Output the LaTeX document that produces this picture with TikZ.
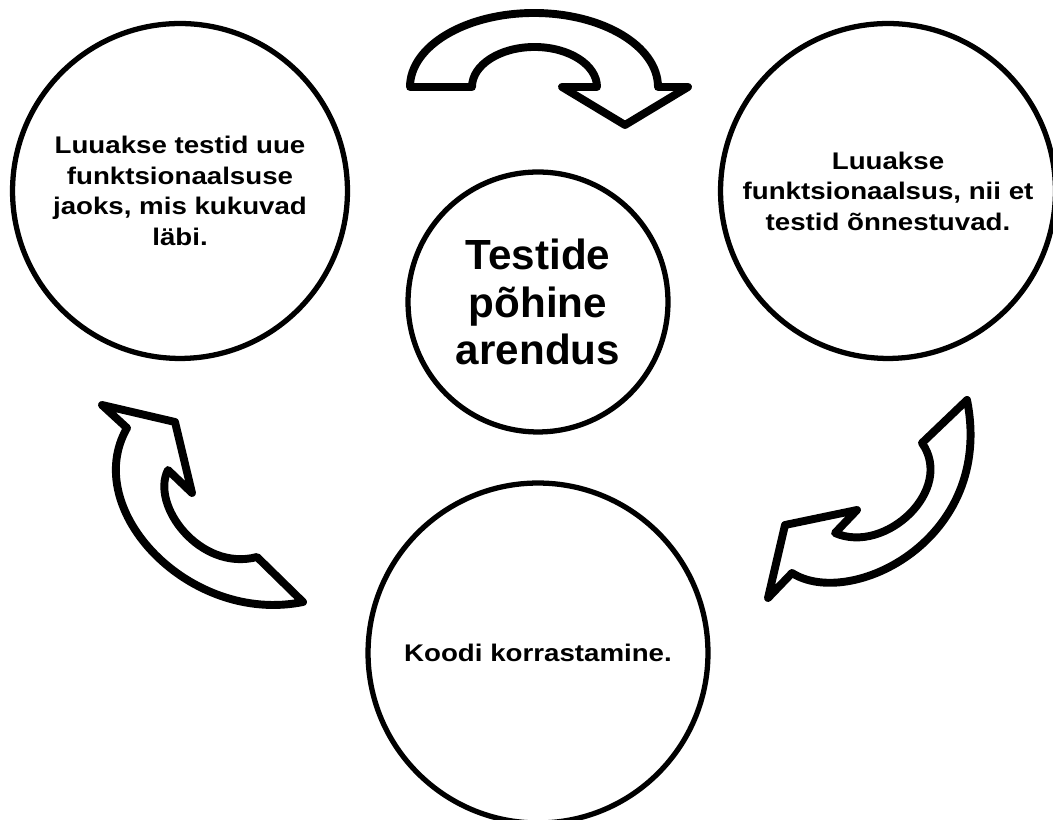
\documentclass[tikz,border=0pt]{standalone}
\usepackage{fontspec}
\setmainfont{Liberation Sans}
\newfontfamily\widefont[FakeStretch=1.15]{Liberation Sans}

\begin{document}
\begin{tikzpicture}[x=0.02cm,
                    y=0.02cm,
                    %line join=miter,
                    line join=round,
                    main node/.style={circle,draw,line width=3pt,minimum size=6.7cm,
                                      align=center,font=\widefont\bfseries\fontsize{13.7}{17.4}\selectfont},
                    hub node/.style={main node,minimum size=5.2cm,
                                      font=\bfseries\fontsize{24}{27}\selectfont},
                    block arrow/.style={draw,fill=white,line width=4.5pt}]

  \useasboundingbox (0,0) rectangle (1053,820);

  \node[hub node]  (hub)   at (538,518) {Testide\\põhine\\arendus};
  \node[main node] (write) at (180,629) {Luuakse testid uue\\funktsionaalsuse\\jaoks, mis kukuvad\\läbi.};
  \node[main node] (make)  at (888,629) {Luuakse\\funktsionaalsus, nii et\\testid õnnestuvad.};
  \node[main node,minimum size=6.8cm] (clean) at (538,167) {Koodi korrastamine.};

  % write -> make
  \draw[block arrow] (472,733) -- (410,733)
    arc[start angle=180,end angle=0,x radius=124,y radius=74]
    -- (688,733) -- (625,695) -- (562,733) -- (597,733)
    arc[start angle=0,end angle=180,x radius=62.5,y radius=40] -- cycle;

  % make -> clean
  \draw[block arrow] (967,420) -- (922,377)
    .. controls (955,330) and (885,265) .. (835,287)
    -- (857,310) -- (785,295) -- (768,222) -- (792,247)
    .. controls (850,210) and (995,280) .. (967,420) -- cycle;

  % clean -> write
  \draw[block arrow] (102,415) -- (175,398) -- (192,327) -- (168,350)
    .. controls (150,315) and (200,248) .. (257,263)
    -- (303,218)
    .. controls (190,195) and (80,310) .. (127,392) -- cycle;
\end{tikzpicture}
\end{document}
